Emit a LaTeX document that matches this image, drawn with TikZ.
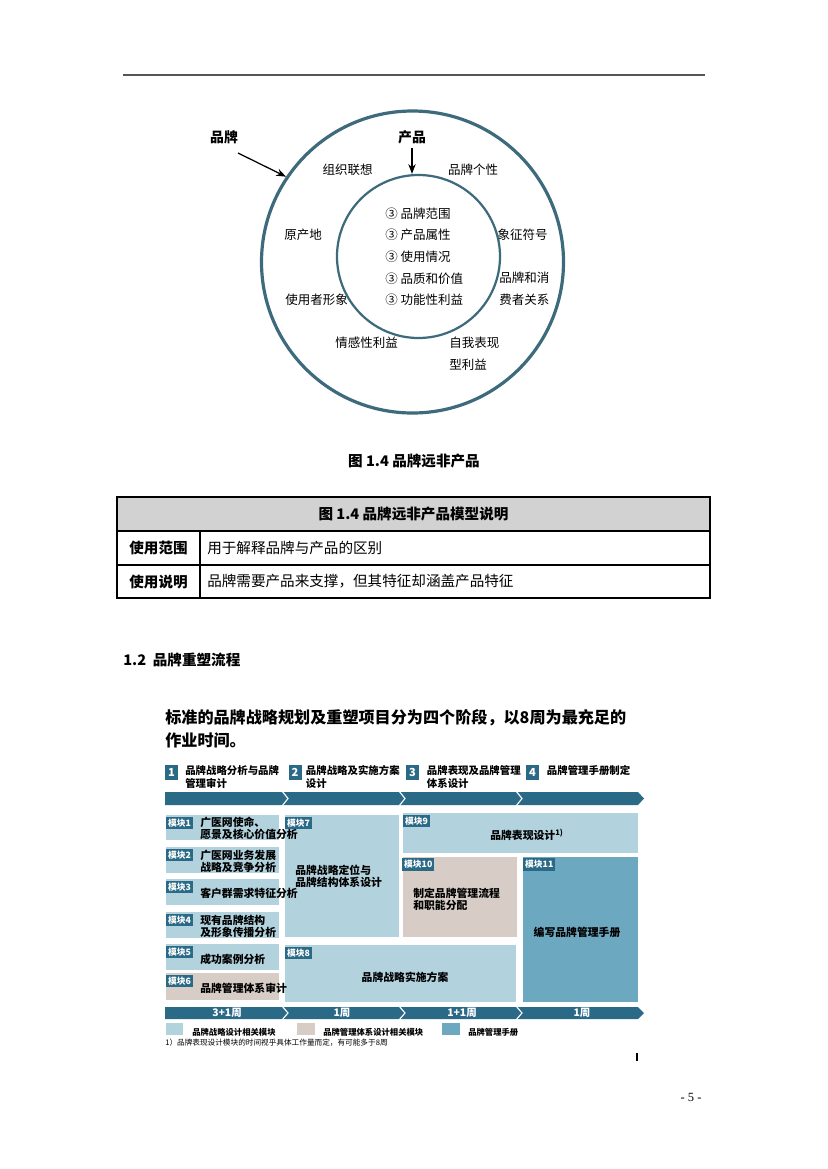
\documentclass[tikz,border=0pt]{standalone}
\usepackage{fontspec}
\usepackage{tikz}
\usetikzlibrary{arrows.meta,positioning,calc}
\setmainfont{Noto Sans CJK SC}
\newfontfamily\pgnum{Liberation Serif}
\definecolor{cRing}{HTML}{3D6B7C}
\definecolor{cDk}{HTML}{2B6A87}
\definecolor{cLB}{HTML}{B2D2DE}
\definecolor{cBg}{HTML}{D7CDC6}
\definecolor{cMB}{HTML}{6CA8C0}
\definecolor{cHd}{HTML}{D2D2D2}
\definecolor{cRule}{HTML}{555555}
\newcommand{\fs}[2]{\fontsize{#1}{#2}\selectfont}
\tikzset{
  >=Stealth,
  ring/.style ={circle,draw=cRing,inner sep=0pt},
  lab/.style  ={font=\fs{9}{15.8pt},align=left,inner sep=0pt},
  ttl/.style  ={font=\bfseries\fs{10}{12pt},inner sep=0pt},
  ar/.style   ={->,line width=0.9pt,black},
  cell/.style ={font=\fs{10.5}{13pt},inner sep=0pt,anchor=west},
  hcell/.style={font=\bfseries\fs{10.5}{13pt},inner sep=0pt},
  num/.style  ={fill=cDk,text=white,font=\bfseries\fs{8}{9pt},minimum width=13*0.72pt,
                minimum height=15*0.72pt,inner sep=0pt},
  ph/.style   ={font=\bfseries\fs{7.5}{9.4pt},align=left,anchor=north west,inner sep=0pt},
  tag/.style  ={fill=cDk,text=white,font=\bfseries\fs{6.3}{7pt},inner sep=1.4pt,anchor=north west},
  mtxt/.style ={font=\bfseries\fs{7.8}{8.6pt},align=left,anchor=west,inner sep=0pt},
  wk/.style   ={text=white,font=\bfseries\fs{7.5}{8pt},inner sep=0pt},
  leg/.style  ={font=\bfseries\fs{6}{7pt},anchor=west,inner sep=0pt},
}

\begin{document}
\begin{tikzpicture}[x=0.72pt,y=-0.72pt]
\useasboundingbox[fill=white] (0,0) rectangle (827,1169);
\draw[cRule,line width=1.1pt] (123,75) -- (705,75);

\node[ring,line width=2.3pt,minimum size=302*0.72pt] (outer) at (412.5,262) {};
\node[ring,line width=1.6pt,minimum size=163*0.72pt] (inner) at (418.5,256.5) {};
\node[ttl] (brand) at (224,137) {品牌};
\node[ttl] (prod) at (412,137) {产品};
\draw[ar] (238,153) -- (outer.146);
\draw[ar] (prod.south) ++(0,-3pt) coordinate (ps) -- (ps |- inner.north);

\node[lab] (o1) at (347.7,170) {组织联想};
\node[lab] (o2) at (473,170) {品牌个性};
\node[lab] (o3) at (303,235) {原产地};
\node[lab] (o4) at (522.7,235) {象征符号};
\node[lab,anchor=west] (o5) at (499,289) {品牌和消\\费者关系};
\node[lab] (o6) at (316.7,300) {使用者形象};
\node[lab] (o7) at (366.7,343) {情感性利益};
\node[lab,anchor=west] (o8) at (449,354) {自我表现\\型利益};
\node[lab,font=\fs{9}{15.6pt},anchor=west] (core) at (385,256.7)
 {③ 品牌范围\\③ 产品属性\\③ 使用情况\\③ 品质和价值\\③ 功能性利益};

\node[hcell] (cap) at (414,461) {图 1.4 品牌远非产品};

\fill[cHd] (117,497) rectangle (710,531);
\draw[line width=0.8pt] (117,531) -- (710,531) (117,565) -- (710,565) (200,531) -- (200,598);
\draw[line width=1.6pt] (117,497) rectangle (710,598);
\node[hcell] (th) at (413.5,514) {图 1.4 品牌远非产品模型说明};
\node[hcell] (r1) at (158.5,548) {使用范围};
\node[hcell] (r2) at (158.5,581.5) {使用说明};
\node[cell] (c1) at (207,548) {用于解释品牌与产品的区别};
\node[cell] (c2) at (207,581.5) {品牌需要产品来支撑，但其特征却涵盖产品特征};

\node[hcell,anchor=west] (sec) at (123,660) {1.2\ \ 品牌重塑流程};
\node[font=\bfseries\fs{11.6}{16.6pt},align=left,anchor=north west,inner sep=0pt] (lead) at (165,709)
 {标准的品牌战略规划及重塑项目分为四个阶段，以8周为最充足的\\作业时间。};

\node[num] (n1) at (171.5,772.5) {1};
\node[num] (n2) at (295,772.5) {2};
\node[num] (n3) at (412.5,772.5) {3};
\node[num] (n4) at (532.5,772.5) {4};
\node[ph] (p1) at (185,765) {品牌战略分析与品牌\\管理审计};
\node[ph] (p2) at (305.7,765) {品牌战略及实施方案\\设计};
\node[ph] (p3) at (426.7,765) {品牌表现及品牌管理\\体系设计};
\node[ph] (p4) at (546.7,765) {品牌管理手册制定};

\fill[cDk] (165,792) -- (638,792) -- (644,798.5) -- (638,805) -- (165,805) -- cycle;
\foreach \x in {288,405,522} \draw[white,line width=0.8pt] (\x-6,791) -- (\x,798.5) -- (\x-6,806);

\fill[cLB] (285,815) rectangle (399,937);
\fill[cLB] (285,945) rectangle (516,1002);
\fill[cLB] (403,813) rectangle (638,853);
\fill[cBg] (403,857) rectangle (517,937);
\fill[cMB] (523,857) rectangle (638,1002);
\foreach \i/\ya/\yb/\c/\ty/\t in {
  1/815/840/cLB/828/{广医网使命、\\愿景及核心价值分析},
  2/847/873/cLB/861/{广医网业务发展\\战略及竞争分析},
  3/879/905/cLB/893/{客户群需求特征分析},
  4/912/938/cLB/926/{现有品牌结构\\及形象传播分析},
  5/944/970/cLB/959/{成功案例分析},
  6/973/1000/cBg/988/{品牌管理体系审计}}{
  \fill[\c] (166,\ya) rectangle (279,\yb);
  \node[tag] (t\i) at (166,\ya+1.5) {模块\i};
  \node[mtxt] (m\i) at (200,\ty) {\t};
}
\node[tag] (t7) at (285,816.5) {模块7};
\node[mtxt] (m7) at (295,876) {品牌战略定位与\\品牌结构体系设计};
\node[tag] (t8) at (285,946.5) {模块8};
\node[mtxt,anchor=center] (m8) at (405,977) {品牌战略实施方案};
\node[tag] (t9) at (403,814.5) {模块9};
\node[mtxt,anchor=center] (m9) at (527,835) {品牌表现设计\textsuperscript{1)}};
\node[tag] (t10) at (402,858) {模块10};
\node[mtxt] (m10) at (413,899) {制定品牌管理流程\\和职能分配};
\node[tag] (t11) at (523,858) {模块11};
\node[mtxt,anchor=center] (m11) at (577,932) {编写品牌管理手册};

\fill[cDk] (165,1007) -- (638,1007) -- (644,1013) -- (638,1019) -- (165,1019) -- cycle;
\foreach \x in {288,405,522} \draw[white,line width=0.8pt] (\x-6,1006) -- (\x,1013) -- (\x-6,1020);
\node[wk] (w1) at (227,1013) {3+1周};
\node[wk] (w2) at (342,1013) {1周};
\node[wk] (w3) at (462,1013) {1+1周};
\node[wk] (w4) at (582,1013) {1周};

\fill[cLB] (166,1023) rectangle (183,1035);
\node[leg] (l1) at (192,1032) {品牌战略设计相关模块};
\fill[cBg] (297,1023) rectangle (315,1035);
\node[leg] (l2) at (323,1032) {品牌管理体系设计相关模块};
\fill[cMB] (442,1023) rectangle (460,1035);
\node[leg] (l3) at (468,1032) {品牌管理手册};
\node[font=\fs{5.5}{6pt},anchor=west,inner sep=0pt] (fn) at (165,1043)
 {1）品牌表现设计模块的时间视乎具体工作量而定，有可能多于8周};
\draw[line width=1pt] (637,1053) -- (637,1061);
\node[font=\pgnum\fs{9}{10pt}] (pg) at (691,1097) {- 5 -};
\end{tikzpicture}
\end{document}
